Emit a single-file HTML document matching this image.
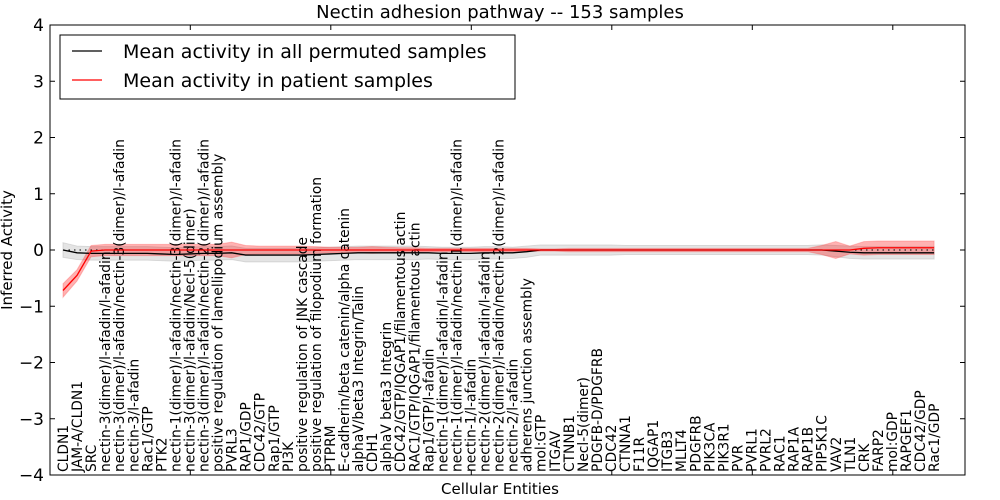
<!DOCTYPE html>
<html><head><meta charset="utf-8"><style>
body{margin:0;background:#fff;}
svg{display:block;font-family:"DejaVu Sans","Liberation Sans",sans-serif;}
</style></head><body>
<svg id="chart" width="1000" height="500">
<defs><clipPath id="plotclip"><rect x="50" y="25" width="915" height="450"/></clipPath></defs>
<rect x="0" y="0" width="1000" height="500" fill="#fff"/>
<text x="500" y="18" font-size="18" text-anchor="middle">Nectin adhesion pathway -- 153 samples</text>
<g id="bands" clip-path="url(#plotclip)"></g>
<g id="labels" clip-path="url(#plotclip)"></g>
<g id="lines" clip-path="url(#plotclip)"></g>
<rect x="50" y="25" width="915" height="450" fill="none" stroke="#000" stroke-width="1"/>
<g id="axes"></g>
<text transform="translate(12,250) rotate(-90)" font-size="15" text-anchor="middle">Inferred Activity</text>
<text x="500" y="494" font-size="15" text-anchor="middle">Cellular Entities</text>
<g>
<rect x="60" y="35" width="455" height="64" fill="#fff" stroke="#000" stroke-width="1"/>
<line x1="72" y1="51" x2="102" y2="51" stroke="#000" stroke-width="1.2"/>
<text x="123" y="58" font-size="19">Mean activity in all permuted samples</text>
<line x1="72" y1="80" x2="102" y2="80" stroke="#f00" stroke-width="1.2"/>
<text x="123" y="87" font-size="19">Mean activity in patient samples</text>
</g>
</svg>
<script>
const categories=["CLDN1","JAM-A/CLDN1","SRC","nectin-3(dimer)/l-afadin/l-afadin","nectin-3(dimer)/l-afadin/nectin-3(dimer)/l-afadin","nectin-3/l-afadin","Rac1/GTP","PTK2","nectin-1(dimer)/l-afadin/nectin-3(dimer)/l-afadin","nectin-3(dimer)/l-afadin/Necl-5(dimer)","nectin-3(dimer)/l-afadin/nectin-2(dimer)/l-afadin","positive regulation of lamellipodium assembly","PVRL3","RAP1/GDP","CDC42/GTP","Rap1/GTP","PI3K","positive regulation of JNK cascade","positive regulation of filopodium formation","PTPRM","E-cadherin/beta catenin/alpha catenin","alphaV/beta3 Integrin/Talin","CDH1","alphaV beta3 Integrin","CDC42/GTP/IQGAP1/filamentous actin","RAC1/GTP/IQGAP1/filamentous actin","Rap1/GTP/l-afadin","nectin-1(dimer)/l-afadin/l-afadin","nectin-1(dimer)/l-afadin/nectin-1(dimer)/l-afadin","nectin-1/l-afadin","nectin-2(dimer)/l-afadin/l-afadin","nectin-2(dimer)/l-afadin/nectin-2(dimer)/l-afadin","nectin-2/l-afadin","adherens junction assembly","mol:GTP","ITGAV","CTNNB1","Necl-5(dimer)","PDGFB-D/PDGFRB","CDC42","CTNNA1","F11R","IQGAP1","ITGB3","MLLT4","PDGFRB","PIK3CA","PIK3R1","PVR","PVRL1","PVRL2","RAC1","RAP1A","RAP1B","PIP5K1C","VAV2","TLN1","CRK","FARP2","mol:GDP","RAPGEF1","CDC42/GDP","Rac1/GDP"];
const patient=[-0.72,-0.45,-0.02,0,0,0,0,0,0,0,0,0,0,0,0,0,0,0,0,0,0,0,0,0,0,0,0,0,0,0,0,0,0,0,0,0,0,0,0,0,0,0,0,0,0,0,0,0,0,0,0,0,0,0,0,0,0,0.03,0.04,0.04,0.04,0.04,0.04];
const patientSpread=[0.12,0.1,0.1,0.1,0.1,0.1,0.1,0.1,0.1,0.1,0.1,0.1,0.14,0.08,0.07,0.07,0.07,0.07,0.06,0.05,0.05,0.05,0.06,0.05,0.04,0.04,0.03,0.03,0.03,0.03,0.03,0.03,0.03,0.03,0.02,0.02,0.03,0.03,0.03,0.03,0.03,0.03,0.03,0.03,0.03,0.03,0.03,0.03,0.03,0.03,0.03,0.03,0.03,0.03,0.08,0.15,0.07,0.12,0.12,0.12,0.12,0.12,0.12];
const permuted=[0,-0.05,-0.06,-0.06,-0.06,-0.06,-0.06,-0.07,-0.08,-0.07,-0.06,-0.06,-0.05,-0.09,-0.09,-0.09,-0.09,-0.09,-0.08,-0.07,-0.06,-0.05,-0.05,-0.05,-0.05,-0.05,-0.05,-0.06,-0.06,-0.06,-0.05,-0.05,-0.05,-0.03,0,0,0,0,0,0,0,0,0,0,0,0,0,0,0,0,0,0,0,0,0,-0.02,-0.04,-0.05,-0.05,-0.05,-0.05,-0.05,-0.05];
const permutedSpread=[0.13,0.12,0.12,0.12,0.12,0.12,0.12,0.12,0.12,0.12,0.12,0.12,0.12,0.12,0.12,0.12,0.12,0.12,0.12,0.12,0.12,0.12,0.12,0.12,0.12,0.12,0.11,0.11,0.11,0.11,0.11,0.11,0.1,0.1,0.09,0.09,0.09,0.09,0.09,0.09,0.08,0.08,0.08,0.08,0.08,0.08,0.08,0.08,0.08,0.08,0.08,0.08,0.08,0.08,0.09,0.1,0.11,0.11,0.11,0.11,0.11,0.11,0.11];
const yTicks=[4,3,2,1,0,-1,-2,-3,-4];
const yTickLabels=["4","3","2","1","0","\u22121","\u22122","\u22123","\u22124"];
const xTickIdx=[9,19,29,39,49,59];

const NS="http://www.w3.org/2000/svg";
function xs(i){return 63+i*14.05;}
function ys(v){return 250-v*56.25;}
function mk(tag,attrs,parent){const e=document.createElementNS(NS,tag);for(const k in attrs)e.setAttribute(k,attrs[k]);parent.appendChild(e);return e;}
const bands=document.getElementById('bands'),lines=document.getElementById('lines'),labels=document.getElementById('labels'),axes=document.getElementById('axes');

function bandPath(mean,spread){let up=[],dn=[];mean.forEach((m,i)=>{up.push(xs(i)+','+ys(m+spread[i]));});for(let i=mean.length-1;i>=0;i--)dn.push(xs(i)+','+ys(mean[i]-spread[i]));return 'M'+up.join('L')+'L'+dn.join('L')+'Z';}
const gb=mk('path',{d:bandPath(permuted,permutedSpread),fill:'#bbb','fill-opacity':0.4,stroke:'#bbb','stroke-opacity':0.5},bands);


const rb=mk('path',{d:bandPath(patient,patientSpread),fill:'#f00','fill-opacity':0.3,stroke:'#f44','stroke-opacity':0.3},bands);



categories.forEach((c,i)=>{const t=mk('text',{transform:'translate('+(xs(i)+5)+',472) rotate(-90)','font-size':'13.8'},labels);t.textContent=c;

});

const zl=mk('line',{x1:xs(0),x2:xs(categories.length-1),y1:ys(0),y2:ys(0),stroke:'#000','stroke-dasharray':'1.5,4','stroke-width':1},lines);


const pl=mk('polyline',{points:permuted.map((v,i)=>xs(i)+','+ys(v)).join(' '),fill:'none',stroke:'#000','stroke-width':1.3},lines);


const rl=mk('polyline',{points:patient.map((v,i)=>xs(i)+','+ys(v)).join(' '),fill:'none',stroke:'#f00','stroke-width':1.3},lines);



yTicks.forEach((v,i)=>{const y=ys(v);
mk('line',{x1:50,x2:55,y1:y,y2:y,stroke:'#000'},axes);
mk('line',{x1:960,x2:965,y1:y,y2:y,stroke:'#000'},axes);
const t=mk('text',{x:44,y:y+6,'font-size':'17','text-anchor':'end'},axes);t.textContent=yTickLabels[i];

});
xTickIdx.forEach(k=>{const x=50+(k+1)*13.85*1.0+ (k*0.2);
mk('line',{x1:x,x2:x,y1:25,y2:30,stroke:'#000'},axes);
mk('line',{x1:x,x2:x,y1:470,y2:475,stroke:'#000'},axes);});
</script>
</body></html>
